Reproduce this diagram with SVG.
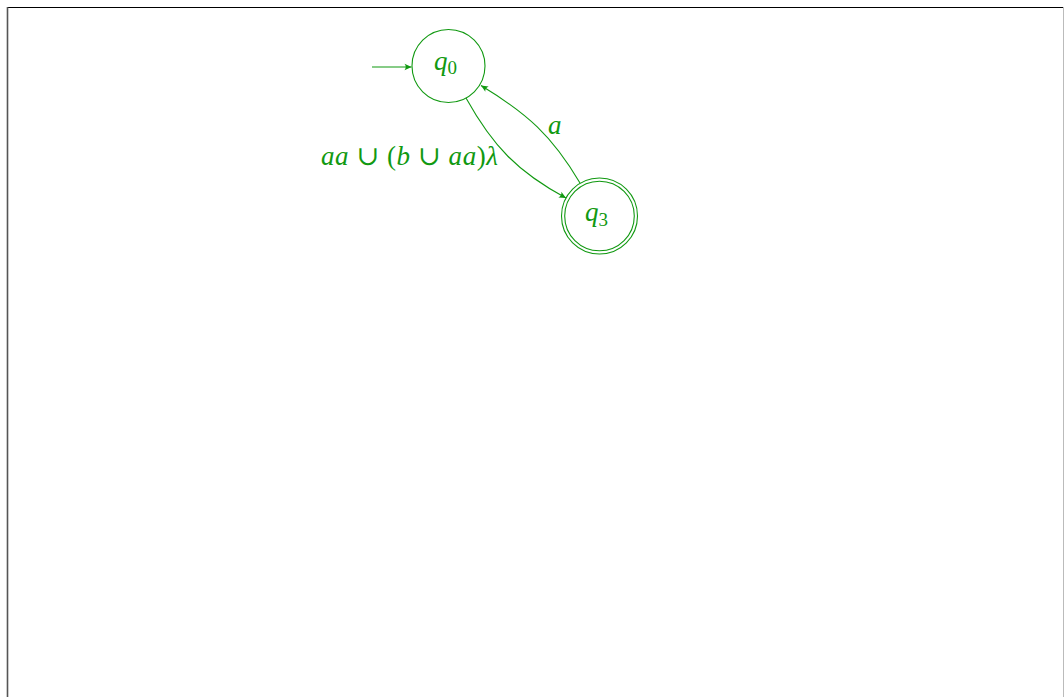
<svg xmlns="http://www.w3.org/2000/svg" width="1064" height="697" viewBox="0 0 1064 697">
  <defs>
    <style>
      .state { fill: none; stroke: #119911; stroke-width: 1.1; }
      .edge { fill: none; stroke: #119911; stroke-width: 1.1; }
      .lbl { fill: #119911; font-family: "Liberation Serif", "DejaVu Serif", serif; font-size: 27px; }
      .it { font-style: italic; }
      .sub { font-size: 19px; font-style: normal; }
    </style>
    <marker id="tip" viewBox="-8 -4 9 8" refX="0" refY="0" markerWidth="9" markerHeight="8" orient="auto" markerUnits="userSpaceOnUse">
      <path d="M0,0 L-7,-3.2 Q-4.5,0 -7,3.2 Z" fill="#119911"/>
    </marker>
  </defs>

  <rect x="0" y="0" width="1064" height="697" fill="#ffffff"/>
  <!-- frame -->
  <line x1="7" y1="7.5" x2="1064" y2="7.5" stroke="#000" stroke-width="1.2"/>
  <line x1="7.5" y1="7" x2="7.5" y2="697" stroke="#555" stroke-width="1.6"/>
  <line x1="1063.5" y1="7" x2="1063.5" y2="697" stroke="#bbb" stroke-width="1"/>

  <g id="edges">
    <!-- start arrow -->
    <line class="edge" x1="372" y1="67" x2="411.5" y2="67" marker-end="url(#tip)"/>
    <!-- q0 to q3 -->
    <path class="edge" d="M466,98 C492.7,146 517.6,172 566,198" marker-end="url(#tip)"/>
    <!-- q3 to q0 -->
    <path class="edge" d="M580,183 C552,135.6 527,113.4 481,85.5" marker-end="url(#tip)"/>
    <text class="lbl" x="321" y="165" textLength="177" lengthAdjust="spacing"><tspan class="it">aa</tspan> ∪ (<tspan class="it">b</tspan> ∪ <tspan class="it">aa</tspan>)<tspan class="it">λ</tspan></text>
    <text class="lbl it" x="548" y="134">a</text>
  </g>

  <g id="q0">
    <circle class="state" cx="448.5" cy="66" r="36.5"/>
    <text class="lbl" x="434" y="70"><tspan class="it">q</tspan><tspan class="sub" dy="4">0</tspan></text>
  </g>

  <g id="q3">
    <circle class="state" cx="599.5" cy="216" r="38"/>
    <circle class="state" cx="599.5" cy="216" r="34.8"/>
    <text class="lbl" x="585" y="221"><tspan class="it">q</tspan><tspan class="sub" dy="5">3</tspan></text>
  </g>
</svg>
